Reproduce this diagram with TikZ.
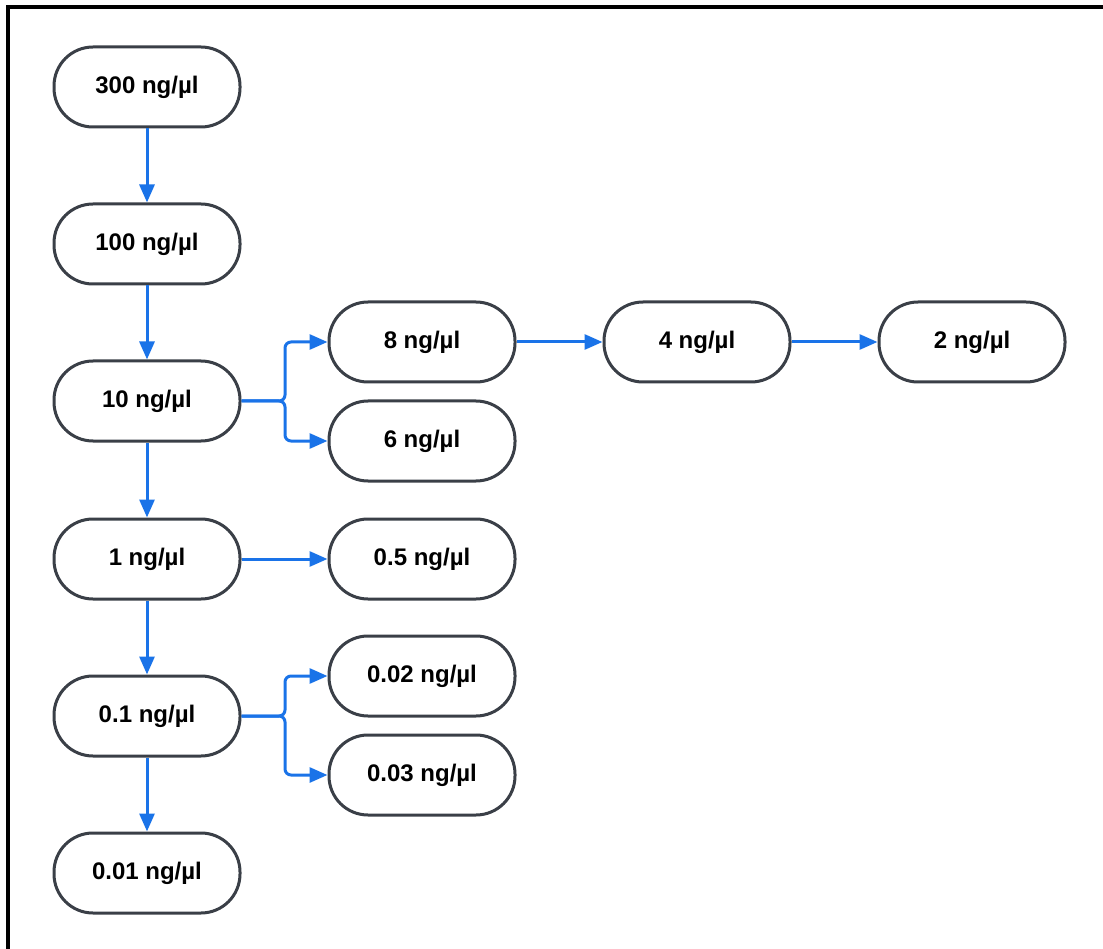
\documentclass[tikz,border=0pt]{standalone}
\usepackage{fontspec}
\setmainfont{Liberation Sans}
\usetikzlibrary{arrows.meta}
\definecolor{nodegray}{HTML}{3A3F47}
\definecolor{arrblue}{HTML}{1A73E8}
\tikzset{
  conc/.style={draw=nodegray, line width=3pt, rounded corners=39pt, minimum width=186pt, minimum height=80pt, inner sep=0pt, font=\fontsize{24}{28}\selectfont\bfseries, fill=white},
  arr/.style={draw=arrblue, line width=3pt, -{Triangle[length=18pt,width=15pt]}},
}
\begin{document}
\begin{tikzpicture}[x=1pt,y=-1pt]
\useasboundingbox (0,0) rectangle (1103,949);
\draw[line width=3.5pt] (8,949) -- (8,7) -- (1103,7);
\node[conc] (a300) at (147,87) {300 ng/µl};
\node[conc] (a100) at (147,244) {100 ng/µl};
\node[conc] (a10) at (147,401) {10 ng/µl};
\node[conc] (a1) at (147,559) {1 ng/µl};
\node[conc] (a01) at (147,716) {0.1 ng/µl};
\node[conc] (a001) at (147,873) {0.01 ng/µl};
\node[conc] (b8) at (422,342) {8 ng/µl};
\node[conc] (b6) at (422,441) {6 ng/µl};
\node[conc] (b05) at (422,559) {0.5 ng/µl};
\node[conc] (b002) at (422,676) {0.02 ng/µl};
\node[conc] (b003) at (422,775) {0.03 ng/µl};
\node[conc] (c4) at (697,342) {4 ng/µl};
\node[conc] (c2) at (972,342) {2 ng/µl};
\draw[arr] (a300) -- (a100);
\draw[arr] (a100) -- (a10);
\draw[arr] (a10) -- (a1);
\draw[arr] (a1) -- (a01);
\draw[arr] (a01) -- (a001);
\draw[arr] (a1) -- (b05);
\draw[arr] (b8) -- (c4);
\draw[arr] (c4) -- (c2);
\draw[arr, rounded corners=6pt] (a10.east) -- (285,401) |- (b8.west);
\draw[arr, rounded corners=6pt] (a10.east) -- (285,401) |- (b6.west);
\draw[arr, rounded corners=6pt] (a01.east) -- (285,716) |- (b002.west);
\draw[arr, rounded corners=6pt] (a01.east) -- (285,716) |- (b003.west);
\end{tikzpicture}
\end{document}
